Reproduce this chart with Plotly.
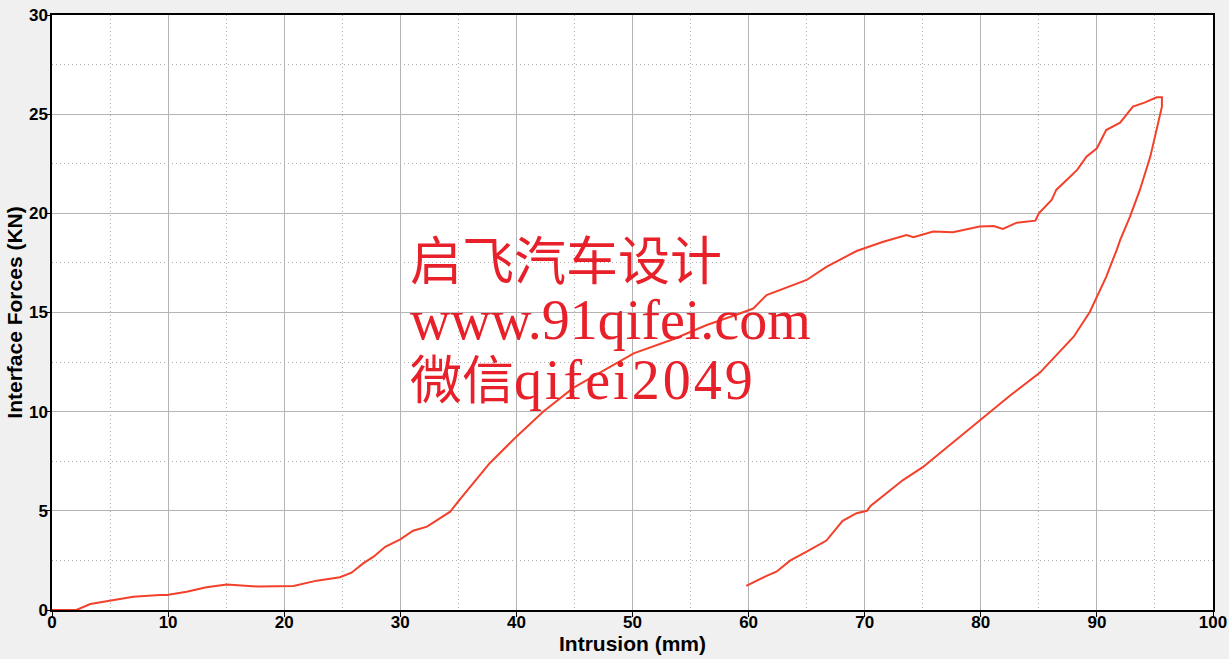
import plotly.graph_objects as go

# Loading branch (Intrusion mm, Force kN)
load_x = [0, 2.1, 3.3, 5.0, 7.0, 9.3, 9.9, 11.6, 13.3, 15.05, 16.5, 17.8, 20.8, 22.8, 24.8,
          25.8, 26.8, 27.7, 28.7, 30.0, 31.1, 32.3, 33.4, 34.3, 35.1, 37.7, 40.0, 42.3,
          44.9, 47.8, 50.1, 53.5, 56.4, 59.3, 60.4, 61.55, 65.0, 66.7, 69.3, 71.6, 73.6,
          74.2, 75.9, 77.6, 79.9, 81.1, 81.9, 83.1, 84.7, 85.0, 86.1, 86.5, 87.4, 88.3,
          89.1, 90.0, 90.8, 92.0, 93.1, 94.1, 95.15, 95.6]
load_y = [0, 0, 0.3, 0.47, 0.67, 0.76, 0.76, 0.92, 1.15, 1.29, 1.24, 1.18, 1.21, 1.48, 1.65,
          1.88, 2.35, 2.69, 3.19, 3.56, 4.0, 4.2, 4.62, 4.96, 5.55, 7.4, 8.74, 10.0,
          11.2, 12.19, 12.94, 13.65, 14.37, 14.96, 15.2, 15.88, 16.64, 17.3, 18.1, 18.57, 18.9,
          18.8, 19.08, 19.05, 19.33, 19.36, 19.21, 19.53, 19.63, 20.0, 20.67, 21.18, 21.68, 22.19,
          22.86, 23.28, 24.2, 24.57, 25.38, 25.58, 25.85, 25.85]

# Unloading branch
unload_x = [95.6, 95.6, 95.15, 94.6, 93.7, 92.85, 92.0, 91.7, 90.8, 89.4, 88.0, 86.3, 85.1,
            82.5, 80.0, 77.5, 75.0, 73.3, 71.9, 70.5, 70.2, 69.3, 68.1, 66.7, 65.0, 63.6,
            62.4, 61.6, 59.8]
unload_y = [25.85, 25.38, 24.2, 22.86, 21.18, 19.83, 18.65, 18.15, 16.8, 15.04, 13.78, 12.69, 11.97,
            10.8, 9.6, 8.4, 7.2, 6.55, 5.9, 5.25, 5.0, 4.88, 4.5, 3.5, 2.94, 2.5,
            1.93, 1.73, 1.22]

x_range = [0, 100]
y_range = [0, 30]
x_title = "Intrusion (mm)"
y_title = "Interface Forces (KN)"
wm_line1 = "启飞汽车设计"
wm_line2 = "www.91qifei.com"
wm_line3_cn = "微信"
wm_line3_latin = "qifei2049"

line_color = "#f2402a"
wm_color = "#e8202a"

fig = go.Figure()
fig.add_trace(go.Scatter(x=load_x + unload_x, y=load_y + unload_y, mode="lines",
                         line=dict(color=line_color, width=2), showlegend=False,
                         hoverinfo="skip"))
# empty trace so the label-carrying overlay axes are rendered
fig.add_trace(go.Scatter(x=[], y=[], xaxis="x2", yaxis="y2", showlegend=False, hoverinfo="skip"))

tick_font = dict(family="Liberation Sans", size=17, color="black", weight="bold")
title_font = dict(family="Liberation Sans", size=21, color="black")

main_common = dict(
    showline=True, linecolor="black", linewidth=1.5, mirror=True,
    ticks="outside", ticklen=5, tickcolor="black", tickwidth=1,
    showgrid=True, gridcolor="#b4b4b4", gridwidth=1,
    zeroline=False, automargin=False, showticklabels=False,
)
label_common = dict(
    showline=False, ticks="", showgrid=False, zeroline=False, automargin=False,
    showticklabels=True, tickfont=tick_font,
)

fig.update_layout(
    xaxis=dict(range=x_range, dtick=10, tick0=0,
               minor=dict(dtick=5, showgrid=True, gridcolor="#b0b0b0", griddash="1px,3px", ticks=""),
               **main_common),
    yaxis=dict(range=y_range, dtick=5, tick0=0,
               minor=dict(dtick=2.5, showgrid=True, gridcolor="#b0b0b0", griddash="1px,3px", ticks=""),
               **main_common),
    xaxis2=dict(range=x_range, dtick=10, tick0=0, overlaying="x", anchor="y2", side="bottom",
                title=dict(text="<b>" + x_title + "</b>", font=title_font, standoff=0),
                **label_common),
    yaxis2=dict(range=y_range, dtick=5, tick0=0, overlaying="y", anchor="x2", side="left",
                ticklabelstandoff=3,
                title=dict(text="<b>" + y_title + "</b>", font=title_font, standoff=0),
                **label_common),
)

wm_font_cn = dict(family="Noto Sans CJK SC", size=52, color=wm_color)
wm_font_lat = dict(family="Liberation Serif", size=56, color=wm_color)

fig.add_annotation(x=0.3066, y=0.593, xref="paper", yref="paper", text=wm_line1,
                   showarrow=False, xanchor="left", yanchor="middle", font=wm_font_cn)
fig.add_annotation(x=0.3066, y=0.487, xref="paper", yref="paper", text=wm_line2,
                   showarrow=False, xanchor="left", yanchor="middle", font=wm_font_lat)
fig.add_annotation(x=0.3066, y=0.392, xref="paper", yref="paper",
                   text='<span style="font-family:Noto Sans CJK SC;font-size:52px">' + wm_line3_cn
                        + '</span><span style="letter-spacing:3px">' + wm_line3_latin + '</span>',
                   showarrow=False, xanchor="left", yanchor="middle", font=wm_font_lat)

fig.update_layout(
    width=1229, height=659,
    margin=dict(l=52, r=16, t=15, b=49),
    paper_bgcolor="#f0f0f0", plot_bgcolor="white",
    showlegend=False,
)

fig.write_html("out.html", config={"displayModeBar": False},
               post_script="document.body.style.margin='0';document.body.style.background='#f0f0f0';")
